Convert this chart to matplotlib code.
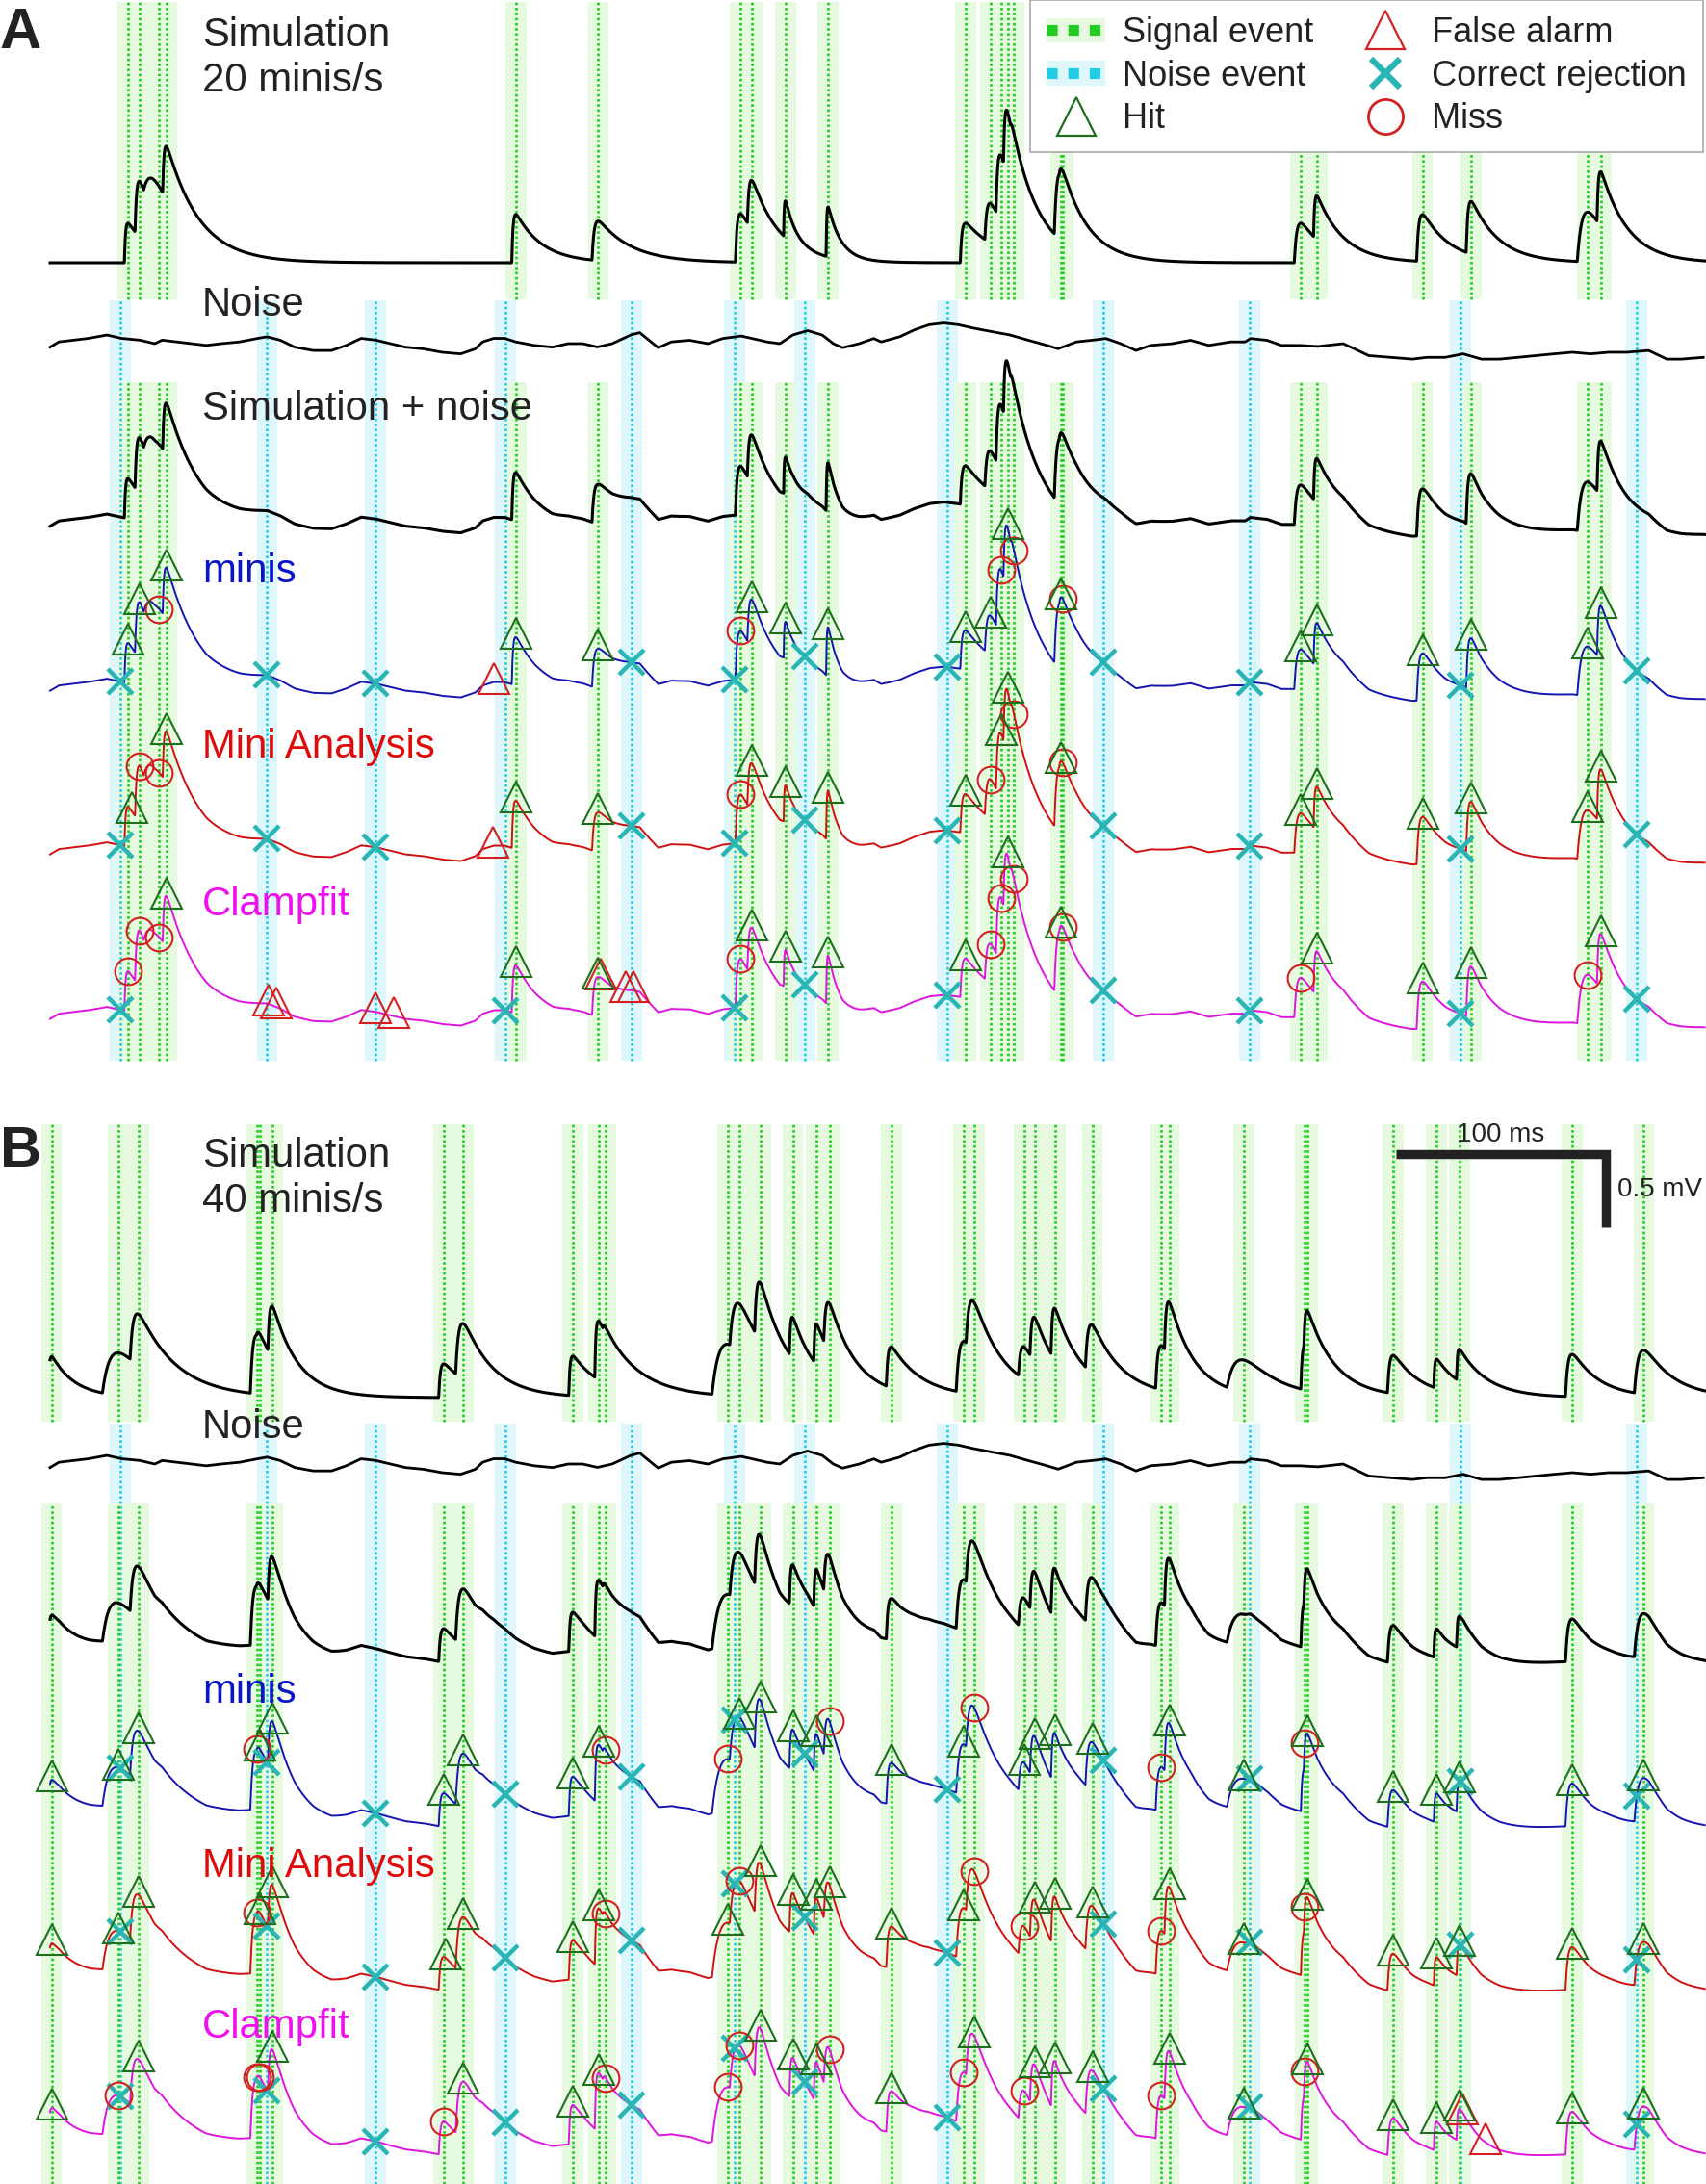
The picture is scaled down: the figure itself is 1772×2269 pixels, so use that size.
import numpy as np
import matplotlib
matplotlib.use("Agg")
import matplotlib.pyplot as plt
from matplotlib.lines import Line2D
from matplotlib.patches import Patch
from matplotlib.legend_handler import HandlerTuple

plt.rcParams['font.family'] = ['Liberation Sans', 'DejaVu Sans']

# ---------------------------------------------------------------- data
# time in ms, voltage in mV
T_END = 788.5

# recorded noise trace (same noise used in both panels)
NOISE_T = [0.0, 4.2, 11.2, 18.3, 27.1, 34.1, 42.8, 49.9, 53.4, 60.4, 67.4, 74.4, 81.5, 90.3, 99.0,
           103.4, 109.6, 116.6, 125.4, 134.1, 141.1, 148.2, 155.2, 162.2, 169.3, 178.0, 186.8,
           195.6, 202.6, 206.1, 211.4, 216.6, 221.9, 230.7, 239.4,
           246.8, 253.8, 260.8, 267.8, 276.7, 281.0, 285.4, 289.8, 296.0, 304.7, 313.5, 320.5,
           329.3, 334.6, 341.6, 347.7, 353.9, 360.9, 367.9, 373.2, 377.6, 385.5, 392.5, 396.0,
           404.8, 411.8, 418.8, 425.9, 432.9, 439.9, 448.7, 457.4, 466.2, 475.0, 480.3, 489.0,
           496.1, 503.1, 510.1,
           517.4, 524.4, 534.8, 543.4, 552.1, 562.5, 569.4, 572.0, 579.8, 586.7, 595.4, 604.0,
           616.1, 621.4, 628.3, 638.7, 649.1, 656.0, 664.7, 673.3, 682.0, 690.6, 699.3, 708.0,
           716.6, 725.3, 734.0, 742.6, 751.3, 761.7, 770.3, 777.2, 787.7]
NOISE_MV = [-0.024, 0.012, 0.024, 0.036, 0.059, 0.036, 0.024, 0.0, 0.024, 0.012, 0.0, -0.012, 0.0,
            0.012, 0.036, 0.047, 0.024, -0.024, -0.047, -0.047, -0.012, 0.036, 0.024, 0.0, -0.024,
            -0.036, -0.059, -0.070, -0.036, 0.012, 0.036, 0.036, 0.012, -0.012, -0.024,
            0.0, 0.0, -0.023, 0.0, 0.059, 0.075, 0.023, -0.028, 0.012, 0.023, 0.0, 0.035, 0.052,
            0.035, 0.012, 0.0, 0.059, 0.089, 0.059, 0.0, -0.028, 0.0, 0.035, 0.012, 0.047, 0.094,
            0.129, 0.141, 0.129, 0.106, 0.082, 0.059, 0.023, -0.012, -0.035, 0.012, 0.023, 0.035,
            0.0,
            -0.047, -0.012, 0.0, 0.023, -0.012, 0.012, 0.012, 0.035, 0.023, -0.012, -0.012, -0.019,
            0.0, -0.035, -0.082, -0.094, -0.106, -0.094, -0.094, -0.070, -0.106, -0.106, -0.094,
            -0.082, -0.070, -0.059, -0.070, -0.059, -0.059, -0.047, -0.106, -0.106, -0.094]

NOISE_EVENTS = [33.4, 103.4, 155.2, 217.0, 277.2, 326.3, 359.5, 427.6, 501.8, 571.6, 672.0, 756.0]

# Panel A (20 minis/s): peak time, amplitude, rise tau, decay tau
A_SIG_T = [37.1, 42.8, 52.0, 55.7, 221.9, 261.2, 328.9, 334.6, 350.4, 370.7, 436.2, 448.1,
           453.1, 456.2, 459.2, 481.6, 482.4, 595.9, 603.7, 653.9, 677.1, 732.6, 739.0]
A_SIG_AMP = [0.27, 0.38, 0.25, 0.36, 0.33, 0.27, 0.33, 0.33, 0.25, 0.34, 0.27, 0.27,
             0.44, 0.43, 0.05, 0.45, 0.04, 0.27, 0.30, 0.32, 0.36, 0.34, 0.37]
A_SIG_TR = [0.5, 0.8, 4.0, 0.6, 0.6, 1.0, 0.8, 0.8, 0.3, 0.3, 0.8, 1.0,
            0.8, 0.6, 0.5, 1.2, 0.5, 1.2, 0.5, 1.0, 0.8, 2.5, 0.6]
A_SIG_TD = [12, 12, 16, 16, 12.5, 16, 13, 13, 5, 6, 16, 12,
            13, 13, 10, 12.5, 10, 12, 13, 13, 13, 12, 13]

# Panel B (40 minis/s)
B_SIG_T = [0.7, 32.7, 42.2, 98.5, 99.9, 106.1, 187.6, 197.0, 249.1, 261.4, 264.9, 322.8,
           328.6, 338.4, 353.9, 365.3, 371.4, 400.9, 435.5, 440.2, 464.1, 469.2, 478.9, 496.6,
           529.5, 533.3, 568.7, 597.9, 599.3, 640.0, 660.7, 671.6, 725.2, 759.4]
B_SIG_AMP = [0.28, 0.29, 0.35, 0.40, 0.03, 0.35, 0.23, 0.38, 0.27, 0.40, 0.04, 0.35,
             0.33, 0.40, 0.28, 0.28, 0.33, 0.28, 0.35, 0.35, 0.22, 0.30, 0.35, 0.33,
             0.30, 0.37, 0.22, 0.30, 0.26, 0.26, 0.20, 0.22, 0.29, 0.30]
B_SIG_TR = [0.5, 4.0, 1.5, 1.2, 0.5, 0.8, 0.8, 1.5, 0.6, 0.5, 0.5, 4.0,
            2.0, 1.0, 0.5, 0.4, 1.0, 0.8, 1.5, 1.5, 1.0, 0.8, 0.6, 1.2,
            1.0, 0.8, 4.5, 0.6, 0.6, 1.0, 0.4, 0.4, 1.2, 2.0]
B_SIG_TD = [11, 18, 18, 12, 10, 12, 14, 14, 14, 18, 10, 16,
            16, 12, 11, 12, 13, 15, 14, 14, 12, 12, 14, 15,
            12, 12, 16, 13, 13, 13, 12, 14, 13, 14]

# detection outcomes: H hit, M miss, X correct rejection, F false alarm
A_MINIS = [(33.4, 'X'), (37.1, 'H'), (42.8, 'H'), (52.0, 'M'), (55.7, 'H'), (103.4, 'X'),
           (155.2, 'X'), (211.5, 'F'), (221.9, 'H'), (261.2, 'H'), (277.2, 'X'), (326.3, 'X'),
           (328.9, 'M'), (334.6, 'H'), (350.4, 'H'), (359.5, 'X'), (370.7, 'H'), (427.6, 'X'),
           (436.2, 'H'), (448.1, 'H'), (453.1, 'M'), (456.2, 'H'), (459.2, 'M'), (481.6, 'H'),
           (482.4, 'M'), (501.8, 'X'), (571.6, 'X'), (595.9, 'H'), (603.7, 'H'), (653.9, 'H'),
           (672.0, 'X'), (677.1, 'H'), (732.6, 'H'), (739.0, 'H'), (756.0, 'X')]
A_MINIANALYSIS = [(33.4, 'X'), (39.0, 'H'), (42.8, 'M'), (52.0, 'M'), (55.7, 'H'), (103.4, 'X'),
                  (155.2, 'X'), (210.8, 'F'), (221.9, 'H'), (261.2, 'H'), (277.2, 'X'),
                  (326.3, 'X'), (328.9, 'M'), (334.6, 'H'), (350.4, 'H'), (359.5, 'X'),
                  (370.7, 'H'), (427.6, 'X'), (436.2, 'H'), (448.1, 'M'), (453.1, 'H'),
                  (456.2, 'H'), (459.2, 'M'), (481.6, 'H'), (482.4, 'M'), (501.8, 'X'),
                  (571.6, 'X'), (595.9, 'H'), (603.7, 'H'), (653.9, 'H'), (672.0, 'X'),
                  (677.1, 'H'), (732.6, 'H'), (739.0, 'H'), (756.0, 'X')]
A_CLAMPFIT = [(33.4, 'X'), (37.1, 'M'), (42.8, 'M'), (52.0, 'M'), (55.7, 'H'), (104.1, 'F'),
              (107.8, 'F'), (155.0, 'F'), (163.6, 'F'), (217.0, 'X'), (221.9, 'H'), (261.2, 'H'),
              (262.6, 'F'), (274.3, 'F'), (277.8, 'F'), (326.3, 'X'), (328.9, 'M'), (334.6, 'H'),
              (350.4, 'H'), (359.5, 'X'), (370.7, 'H'), (427.6, 'X'), (436.2, 'H'), (448.1, 'M'),
              (453.1, 'M'), (456.2, 'H'), (459.2, 'M'), (481.6, 'H'), (482.4, 'M'), (501.8, 'X'),
              (571.6, 'X'), (595.9, 'M'), (603.7, 'H'), (653.9, 'H'), (672.0, 'X'), (677.1, 'H'),
              (732.6, 'M'), (739.0, 'H'), (756.0, 'X')]

B_MINIS = [(0.7, 'H'), (32.7, 'H'), (33.4, 'X'), (42.2, 'H'), (98.5, 'M'), (99.9, 'H'),
           (103.4, 'X'), (106.1, 'H'), (155.2, 'X'), (187.6, 'H'), (197.0, 'H'), (217.0, 'X'),
           (249.1, 'H'), (261.4, 'H'), (264.9, 'M'), (277.2, 'X'), (322.8, 'M'), (326.3, 'X'),
           (328.6, 'H'), (338.4, 'H'), (353.9, 'H'), (359.5, 'X'), (365.3, 'H'), (371.4, 'M'),
           (400.9, 'H'), (427.6, 'X'), (435.5, 'H'), (440.2, 'M'), (464.1, 'H'), (469.2, 'H'),
           (478.9, 'H'), (496.6, 'H'), (501.8, 'X'), (529.5, 'M'), (533.3, 'H'), (568.7, 'H'),
           (571.6, 'X'), (597.9, 'M'), (599.3, 'H'), (640.0, 'H'), (660.7, 'H'), (671.6, 'H'),
           (672.0, 'X'), (725.2, 'H'), (759.4, 'H'), (756.0, 'X')]
B_MINIANALYSIS = [(0.7, 'H'), (32.7, 'H'), (33.4, 'X'), (42.2, 'H'), (98.5, 'M'), (99.9, 'H'),
                  (103.4, 'X'), (106.1, 'H'), (155.2, 'X'), (188.5, 'H'), (197.0, 'H'),
                  (217.0, 'X'), (249.1, 'H'), (261.4, 'H'), (264.9, 'M'), (277.2, 'X'),
                  (322.8, 'H'), (326.3, 'X'), (328.6, 'M'), (338.4, 'H'), (353.9, 'H'),
                  (359.5, 'X'), (365.3, 'H'), (371.4, 'H'), (400.9, 'H'), (427.6, 'X'),
                  (435.5, 'H'), (440.2, 'M'), (464.1, 'M'), (469.2, 'H'), (478.9, 'H'),
                  (496.6, 'H'), (501.8, 'X'), (529.5, 'M'), (533.3, 'H'), (568.7, 'H'),
                  (571.6, 'X'), (597.9, 'M'), (599.3, 'H'), (640.0, 'H'), (660.7, 'H'),
                  (671.6, 'H'), (672.0, 'X'), (725.2, 'H'), (759.4, 'H'), (756.0, 'X')]
B_CLAMPFIT = [(0.7, 'H'), (32.7, 'M'), (33.4, 'X'), (42.2, 'H'), (98.5, 'M'), (99.9, 'M'),
              (103.4, 'X'), (106.1, 'H'), (155.2, 'X'), (187.6, 'M'), (197.0, 'H'), (217.0, 'X'),
              (249.1, 'H'), (261.4, 'H'), (264.9, 'M'), (277.2, 'X'), (322.8, 'M'), (326.3, 'X'),
              (328.6, 'M'), (338.4, 'H'), (353.9, 'H'), (359.5, 'X'), (365.3, 'H'), (371.4, 'M'),
              (400.9, 'H'), (427.6, 'X'), (435.5, 'M'), (440.2, 'H'), (464.1, 'M'), (469.2, 'H'),
              (478.9, 'H'), (496.6, 'H'), (501.8, 'X'), (529.5, 'M'), (533.3, 'H'), (568.7, 'H'),
              (571.6, 'X'), (597.9, 'M'), (599.3, 'H'), (640.0, 'H'), (660.7, 'H'), (671.6, 'H'),
              (672.9, 'F'), (684.0, 'F'), (725.2, 'H'), (759.4, 'H'), (756.0, 'X')]

SCALE_MS = 100
SCALE_MV = 0.5

# ---------------------------------------------------------------- layout / style
W, H = 1772, 2269
PX_PER_MS, PX_PER_MV = 2.18, 152.0
X_START_PX = 52
BAND_HALF = 5.0  # ms

SIG_LINE, SIG_BAND = '#22CC22', '#E6FAE0'
NOI_LINE, NOI_BAND = '#22CCE6', '#DDF7FC'
HIT_C, FA_C, CR_C, MISS_C = '#1E6E1E', '#D42020', '#2AB5B5', '#D42020'
TXT = '#222222'
ROW_COLORS = ['#1414B0', '#D01010', '#E014E0']
ROW_TXT = ['#0A14C8', '#E00A0A', '#EE10EE']
ROW_NAMES = ['minis', 'Mini Analysis', 'Clampfit']

fig = plt.figure(figsize=(W / 100, H / 100), dpi=100)
ax = fig.add_axes([0, 0, 1, 1])
ax.set_xlim(-X_START_PX / PX_PER_MS, (W - X_START_PX) / PX_PER_MS)
ax.set_ylim(-H / PX_PER_MV, 0)
ax.axis('off')


def ydat(py):
    return -py / PX_PER_MV


def frac(py):
    return 1 - py / H


def psp(t, t_peak, amp, tr, td):
    tp = np.log(td / tr) * tr * td / (td - tr)
    s = np.clip(t - (t_peak - tp), 0, None)
    norm = np.exp(-tp / td) - np.exp(-tp / tr)
    return amp * (np.exp(-s / td) - np.exp(-s / tr)) / norm


t = np.arange(0, T_END, 0.1)
noise_fine = np.interp(t, NOISE_T, NOISE_MV)


def events_lines(times, color, band, top, bot):
    for tm in times:
        ax.axvspan(tm - BAND_HALF, tm + BAND_HALF, ymin=frac(bot), ymax=frac(top),
                   fc=band, lw=0, zorder=0.5 if band == SIG_BAND else 0.3)
    ax.vlines(times, ydat(bot), ydat(top), colors=color, lw=1.9,
              linestyles=[(0, (1, 1))], zorder=1)


def draw_marks(marks, trace, base):
    groups = {'H': [], 'M': [], 'X': [], 'F': []}
    for tm, code in marks:
        groups[code].append((tm, base + np.interp(tm, t, trace)))

    def xy(k, lift=0.0):
        if not groups[k]:
            return [], []
        a = np.array(groups[k])
        return a[:, 0], a[:, 1] + lift
    x, y = xy('X')
    ax.plot(x, y, ls='none', marker='x', ms=19, mew=3.2, color=CR_C, zorder=6)
    x, y = xy('M')
    ax.plot(x, y, ls='none', marker='o', ms=20, mfc='none', mew=1.5, mec=MISS_C, zorder=7)
    x, y = xy('F', 0.025)
    ax.plot(x, y, ls='none', marker='^', ms=23, mfc='none', mew=1.5, mec=FA_C, zorder=7)
    x, y = xy('H', 0.025)
    ax.plot(x, y, ls='none', marker='^', ms=23, mfc='none', mew=1.5, mec=HIT_C, zorder=8)


def panel(sig_t, sig_amp, sig_tr, sig_td, marks, lay):
    sim = np.zeros_like(t)
    for tp_, a, r, d in zip(sig_t, sig_amp, sig_tr, sig_td):
        sim += psp(t, tp_, a, r, d)
    sn = sim + noise_fine
    # event markers (bands + dotted lines)
    events_lines(NOISE_EVENTS, NOI_LINE, NOI_BAND, lay['noise_top'], lay['bottom'])
    events_lines(sig_t, SIG_LINE, SIG_BAND, lay['sig_top'], lay['sig_mid_bot'])
    events_lines(sig_t, SIG_LINE, SIG_BAND, lay['sig_low_top'], lay['bottom'])
    # traces
    ax.plot(t, ydat(lay['sim0']) + sim, color='black', lw=2.2, zorder=3)
    ax.plot(NOISE_T, ydat(lay['noise0']) + np.array(NOISE_MV), color='black', lw=2.0, zorder=3)
    ax.plot(t, ydat(lay['sn0']) + sn, color='black', lw=2.2, zorder=3)
    for i, (mk, col) in enumerate(zip(marks, ROW_COLORS)):
        base = ydat(lay['sn0'] + lay['rows'][i])
        ax.plot(t, base + sn, color=col, lw=1.4, zorder=3)
        draw_marks(mk, sn, base)
    # texts
    fs = 30.2
    fig.text(0, frac(lay['label_base']), lay['label'], fontsize=43, fontweight='bold',
             color=TXT, va='baseline', ha='left')
    fig.text(210 / W, frac(lay['txt'][0]), 'Simulation', fontsize=fs, color=TXT, va='baseline')
    fig.text(210 / W, frac(lay['txt'][1]), lay['rate'], fontsize=fs, color=TXT, va='baseline')
    fig.text(210 / W, frac(lay['txt'][2]), 'Noise', fontsize=fs, color=TXT, va='baseline')
    if lay['txt'][3] is not None:
        fig.text(210 / W, frac(lay['txt'][3]), 'Simulation + noise', fontsize=fs, color=TXT,
                 va='baseline')
    for i in range(3):
        fig.text(210 / W, frac(lay['txt'][4 + i]), ROW_NAMES[i], fontsize=fs, color=ROW_TXT[i],
                 va='baseline')


LAY_A = dict(sim0=273, noise0=357, sn0=543, rows=[171, 341, 512],
             sig_top=2, sig_mid_bot=311, noise_top=312, sig_low_top=397, bottom=1102,
             label='A', label_base=50, rate='20 minis/s',
             txt=[48, 94.6, 328.5, 436.3, 604.7, 787, 950.7])
LAY_B = dict(sim0=1452, noise0=1521, sn0=1718, rows=[171, 341, 512],
             sig_top=1168, sig_mid_bot=1477, noise_top=1479, sig_low_top=1562, bottom=2269,
             label='B', label_base=1212, rate='40 minis/s',
             txt=[1211.8, 1259, 1493.5, None, 1769, 1950.4, 2116.6])

panel(A_SIG_T, A_SIG_AMP, A_SIG_TR, A_SIG_TD, [A_MINIS, A_MINIANALYSIS, A_CLAMPFIT], LAY_A)
panel(B_SIG_T, B_SIG_AMP, B_SIG_TR, B_SIG_TD, [B_MINIS, B_MINIANALYSIS, B_CLAMPFIT], LAY_B)

# scale bar (panel B)
sb_x0 = (1450 - X_START_PX) / PX_PER_MS
sb_y0 = ydat(1199)
ax.plot([sb_x0, sb_x0 + SCALE_MS, sb_x0 + SCALE_MS], [sb_y0, sb_y0, sb_y0 - SCALE_MV],
        color='#222222', lw=6.8, solid_joinstyle='miter', solid_capstyle='butt', zorder=9)
fig.text(1559 / W, frac(1186), '%d ms' % SCALE_MS, fontsize=20, color=TXT, ha='center',
         va='baseline')
fig.text(1680 / W, frac(1243), '%.1f mV' % SCALE_MV, fontsize=20, color=TXT, ha='left',
         va='baseline')

# legend
handles = [
    (Patch(fc=SIG_BAND, ec='none'), Line2D([0], [0], color=SIG_LINE, lw=8, ls=(0, (1, 1)))),
    (Patch(fc=NOI_BAND, ec='none'), Line2D([0], [0], color=NOI_LINE, lw=8, ls=(0, (1, 1)))),
    Line2D([], [], ls='none', marker='^', ms=29, mfc='none', mec=HIT_C, mew=1.6),
    Line2D([], [], ls='none', marker='^', ms=29, mfc='none', mec=FA_C, mew=1.6),
    Line2D([], [], ls='none', marker='x', ms=22, mew=4.5, color=CR_C),
    Line2D([], [], ls='none', marker='o', ms=26, mfc='none', mec=MISS_C, mew=2.0),
]
labels = ['Signal event', 'Noise event', 'Hit', 'False alarm', 'Correct rejection', 'Miss']
leg = ax.legend(handles, labels, handler_map={tuple: HandlerTuple(ndivide=1, pad=0)},
                ncols=2, loc='upper right', bbox_to_anchor=(1769 / W, 1.0),
                fontsize=26, frameon=True, fancybox=False, framealpha=1,
                edgecolor='#AAAAAA', borderpad=0.47, labelspacing=0.27, handlelength=1.7,
                handletextpad=0.5, columnspacing=1.2, borderaxespad=0)
leg.get_frame().set_linewidth(1.2)
for txt in leg.get_texts():
    txt.set_color(TXT)
leg.set_zorder(20)

fig.savefig('out.png', dpi=100)
